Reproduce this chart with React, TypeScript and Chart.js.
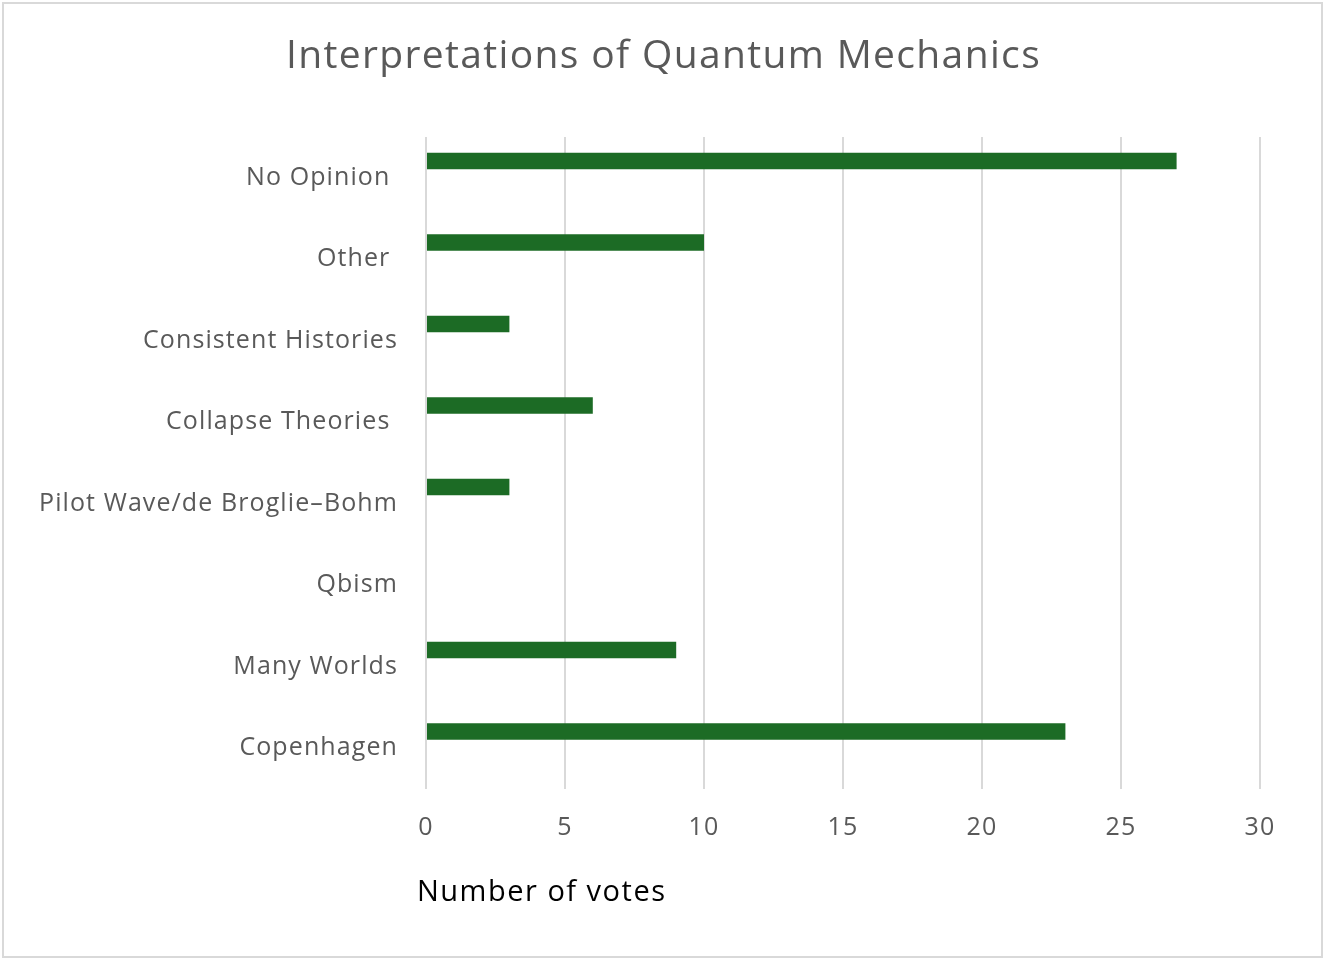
import React, { useEffect, useRef } from "react";
import { Chart, registerables } from "chart.js";

Chart.register(...registerables);

const TITLE = "Interpretations of Quantum Mechanics";
const AXIS_TITLE = "Number of votes";
const categories = [
  "No Opinion ",
  "Other ",
  "Consistent Histories",
  "Collapse Theories ",
  "Pilot Wave/de Broglie–Bohm",
  "Qbism",
  "Many Worlds",
  "Copenhagen",
];
const votes = [27, 10, 3, 6, 3, 0, 9, 23];
const emptySeries = [null, null, null, null, null, null, null, null];
const xTicks = { min: 0, max: 30, step: 5 };

const FONT = "'Open Sans', sans-serif";

const spacingPlugin = {
  id: "spacing",
  beforeLayout(chart: any) {
    chart.ctx.letterSpacing = "1.1px";
  },
  beforeDraw(chart: any) {
    chart.ctx.letterSpacing = "1.1px";
  },
};

const decorPlugin = {
  id: "decor",
  beforeDraw(chart: any) {
    const { ctx, width, height } = chart;
    ctx.save();
    ctx.fillStyle = "#ffffff";
    ctx.fillRect(0, 0, width, height);
    ctx.strokeStyle = "#d9d9d9";
    ctx.lineWidth = 2;
    ctx.strokeRect(3, 3, width - 6, height - 6);
    ctx.restore();
  },
  afterDraw(chart: any) {
    const { ctx, width } = chart;
    ctx.save();
    ctx.textBaseline = "middle";
    ctx.fillStyle = "#595959";
    ctx.font = `39px ${FONT}`;
    ctx.letterSpacing = "1.35px";
    ctx.textAlign = "center";
    ctx.fillText(TITLE, width / 2 + 1, 57);
    ctx.fillStyle = "#000000";
    ctx.font = `29px ${FONT}`;
    ctx.letterSpacing = "1.5px";
    ctx.textAlign = "left";
    ctx.fillText(AXIS_TITLE, 417, 893);
    ctx.restore();
  },
};

export default function App() {
  const ref = useRef<HTMLCanvasElement | null>(null);
  useEffect(() => {
    document.body.style.margin = "0";
    const chart = new Chart(ref.current as HTMLCanvasElement, {
      type: "bar",
      data: {
        labels: categories,
        datasets: [
          {
            data: votes,
            backgroundColor: "#1c6b25",
            borderWidth: 0,
            categoryPercentage: 0.822,
            barPercentage: 0.49,
          },
          {
            data: emptySeries as any,
            backgroundColor: "#1c6b25",
            borderWidth: 0,
            categoryPercentage: 0.822,
            barPercentage: 0.49,
          },
        ],
      },
      options: {
        indexAxis: "y",
        responsive: false,
        animation: false,
        layout: { padding: { top: 137, left: 0, right: 65, bottom: 0 } },
        plugins: {
          legend: { display: false },
          title: { display: false },
          tooltip: { enabled: false },
        },
        scales: {
          x: {
            min: xTicks.min,
            max: xTicks.max,
            ticks: {
              stepSize: xTicks.step,
              color: "#595959",
              font: { family: FONT, size: 25 },
              padding: 24,
            },
            grid: { color: "#d9d9d9", lineWidth: 2, drawTicks: false },
            border: { display: false },
            afterFit(scale: any) {
              scale.height = 171;
            },
          },
          y: {
            ticks: {
              color: "#595959",
              font: { family: FONT, size: 25 },
              padding: 28,
            },
            grid: { display: false, drawTicks: false },
            border: { display: false },
            afterFit(scale: any) {
              scale.width = 426;
            },
          },
        },
      },
      plugins: [spacingPlugin, decorPlugin],
    });
    return () => chart.destroy();
  }, []);
  return <canvas ref={ref} width={1325} height={960} />;
}
